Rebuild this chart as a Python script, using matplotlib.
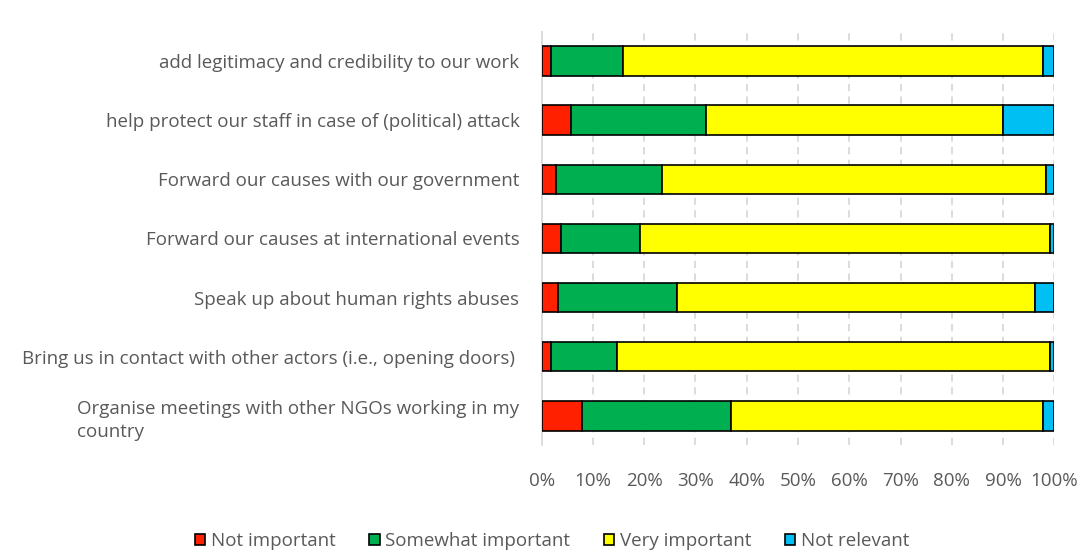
import matplotlib.pyplot as plt
import numpy as np

plt.rcParams['font.family'] = ['Open Sans', 'DejaVu Sans']

# categories, top to bottom
labels = [
    'add legitimacy and credibility to our work',
    'help protect our staff in case of (political) attack',
    'Forward our causes with our government',
    'Forward our causes at international events',
    'Speak up about human rights abuses',
    'Bring us in contact with other actors (i.e., opening doors) ',
    'Organise meetings with other NGOs working in my\ncountry',
]

# shares in %
not_important = [1.8, 5.7, 2.7, 3.7, 3.2, 1.8, 7.9]
somewhat_important = [14.0, 26.4, 20.7, 15.5, 23.1, 12.9, 29.0]
very_important = [81.9, 57.9, 74.9, 80.0, 70.0, 84.5, 60.8]
not_relevant = [2.3, 10.0, 1.7, 0.8, 3.7, 0.8, 2.3]

series = [
    ('Not important', not_important, '#FF2000'),
    ('Somewhat important', somewhat_important, '#00B050'),
    ('Very important', very_important, '#FFFF00'),
    ('Not relevant', not_relevant, '#00BFF3'),
]

fig = plt.figure(figsize=(10.81, 5.52), dpi=100)
ax = fig.add_axes([0.5011, 0.1933, 0.4742, 0.7496])

y = np.arange(len(labels))
left = np.zeros(len(labels))
for name, vals, col in series:
    ax.barh(y, vals, left=left, height=0.5, color=col, edgecolor='black',
            linewidth=1.2, label=name, zorder=3)
    left += np.array(vals)

ax.set_xlim(0, 100)
ax.set_ylim(-0.5, len(labels) - 0.5)
ax.invert_yaxis()

ax.set_xticks(np.arange(0, 101, 10))
ax.set_xticklabels([f'{v}%' for v in range(0, 101, 10)])
ax.set_yticks(y)
ax.set_yticklabels(labels, ha='right', multialignment='left', linespacing=1.4)

for v in range(10, 101, 10):
    ax.axvline(v, color='#D9D9D9', linestyle=(0, (4, 3)), linewidth=1.3, zorder=1)

for s in ['top', 'right', 'bottom']:
    ax.spines[s].set_visible(False)
ax.spines['left'].set_color('#D9D9D9')
ax.spines['left'].set_linewidth(1.3)

ax.tick_params(axis='x', length=0, pad=19, labelsize=13.5, labelcolor='#595959')
ax.tick_params(axis='y', length=0, pad=16, labelsize=13.5, labelcolor='#595959')

fig.legend(loc='center', bbox_to_anchor=(552 / 1081, 1 - 541 / 552), ncol=4,
           frameon=False, fontsize=13.5, labelcolor='#595959', handlelength=0.55,
           handleheight=0.55, handletextpad=0.3, columnspacing=1.8)

fig.savefig('out.png', dpi=100)
